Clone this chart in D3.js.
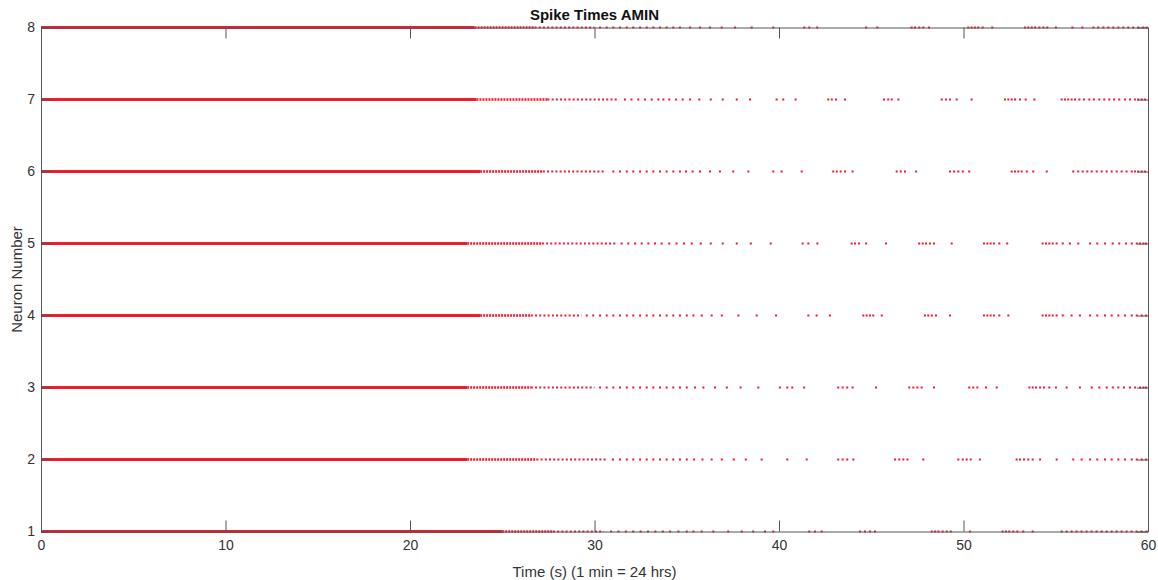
<!DOCTYPE html>
<html><head><meta charset="utf-8">
<script src="https://cdn.jsdelivr.net/npm/d3@7"></script>
<style>body{margin:0;background:#fff;} svg text{font-family:"Liberation Sans",Arial,Helvetica,sans-serif;}</style>
</head><body><svg id="c" width="1158" height="580"></svg>
<script>
// ---------- data ----------
const neurons = [1, 2, 3, 4, 5, 6, 7, 8];
const xTicks = [0, 10, 20, 30, 40, 50, 60];
const yTicks = [1, 2, 3, 4, 5, 6, 7, 8];
const titleText = "Spike Times AMIN";
const xLabel = "Time (s) (1 min = 24 hrs)";
const yLabel = "Neuron Number";
// time (s) up to which each neuron's spikes merge into a continuous line (neuron 1..8)
const solidEnd = [25.0, 23.1, 23.1, 23.8, 23.1, 23.8, 23.6, 23.5];
// time (s) up to which spikes are densely packed (finely dotted)
const denseEnd = [30.5, 30.6, 30.0, 29.3, 31.2, 30.6, 31.3, 30.0];
// individually distinguishable spike times (s)
const spikes1 = [30.9, 31.3, 31.7, 32.1, 32.5, 32.9, 33.3, 33.7, 34.1, 34.55, 35.0, 35.36, 35.81, 36.44, 37.25, 37.98, 38.6, 39.24, 39.69,
  41.64, 41.95, 42.31, 44.39, 44.66, 44.93, 45.2, 48.28, 48.46, 48.64, 48.87, 49.09, 49.31, 50.35,
  52.12, 52.3, 52.48, 52.7, 52.92, 53.24, 53.75, 55.32, 55.59, 55.86, 56.13, 56.4, 56.67, 56.94, 57.21, 57.49, 57.76, 58.03, 58.3, 58.57, 58.84, 59.11, 59.38, 59.65, 59.92];
const spikes2 = [31.0, 31.38, 31.75, 32.1, 32.47, 32.83, 33.19, 33.55, 33.91, 34.27, 34.63, 35.0, 35.4, 35.85, 36.35, 36.9, 37.55, 38.2, 39.06,
  40.45, 41.5, 43.21, 43.45, 43.7, 44.03, 46.29, 46.52, 46.74, 46.96, 47.82, 49.72, 49.96, 50.17, 50.39, 50.89,
  52.88, 53.06, 53.28, 53.51, 53.75, 54.15, 55.05, 55.95, 56.4, 56.86, 57.25, 57.67, 58.03, 58.39, 58.75, 59.12, 59.39, 59.66, 59.89];
const spikes3 = [30.3, 30.66, 31.02, 31.38, 31.75, 32.1, 32.47, 32.83, 33.19, 33.55, 33.91, 34.27, 34.63, 35.0, 35.45, 35.9, 36.53, 37.17, 37.92, 38.88, 40.05,
  40.45, 40.72, 41.36, 43.21, 43.45, 43.7, 43.99, 45.26, 47.06, 47.28, 47.5, 47.73, 48.4, 50.31, 50.53, 50.75, 51.22, 51.8,
  53.57, 53.75, 53.93, 54.15, 54.36, 54.65, 55.01, 55.59, 56.31, 56.95, 57.36, 57.76, 58.09, 58.39, 58.7, 59.02, 59.3, 59.57, 59.75, 59.89];
const spikes4 = [29.58, 29.93, 30.3, 30.66, 31.02, 31.38, 31.75, 32.1, 32.47, 32.83, 33.19, 33.55, 33.91, 34.27, 34.63, 35.0, 35.36, 35.81, 36.35, 36.9, 37.8, 38.79, 39.84,
  41.59, 42.04, 42.76, 44.57, 44.75, 44.93, 45.11, 45.57, 47.91, 48.09, 48.28, 48.51, 49.27,
  51.11, 51.29, 51.47, 51.65, 51.94, 52.43, 54.29, 54.47, 54.65, 54.83, 55.05, 55.38, 55.86, 56.31, 56.86, 57.25, 57.67, 58.03, 58.39, 58.75, 59.12, 59.39, 59.66, 59.89];
const spikes5 = [31.47, 31.83, 32.2, 32.56, 32.92, 33.28, 33.64, 34.05, 34.45, 34.85, 35.27, 35.76, 36.3, 36.95, 37.71, 38.47, 39.55,
  41.28, 41.59, 42.08, 43.94, 44.12, 44.34, 44.72, 45.8, 47.6, 47.79, 47.97, 48.18, 48.4, 49.36,
  51.11, 51.29, 51.47, 51.65, 51.94, 52.37, 54.29, 54.47, 54.65, 54.83, 55.05, 55.38, 55.77, 56.22, 56.86, 57.25, 57.67, 58.09, 58.44, 58.81, 59.12, 59.39, 59.57, 59.75, 59.89];
const spikes6 = [31.02, 31.38, 31.75, 32.1, 32.47, 32.83, 33.19, 33.55, 33.91, 34.27, 34.63, 34.96, 35.32, 35.72, 36.26, 36.8, 37.52, 38.34, 39.69,
  40.14, 41.23, 42.94, 43.13, 43.34, 43.58, 43.99, 46.38, 46.6, 46.83, 47.43, 49.27, 49.49, 49.72, 49.96, 50.31,
  52.61, 52.79, 52.97, 53.15, 53.43, 53.78, 54.51, 55.95, 56.22, 56.46, 56.71, 56.95, 57.22, 57.49, 57.76, 58.03, 58.3, 58.57, 58.84, 59.12, 59.3, 59.47, 59.66, 59.84];
const spikes7 = [31.65, 32.0, 32.37, 32.74, 33.1, 33.46, 33.73, 34.05, 34.42, 34.78, 35.18, 35.68, 36.3, 36.95, 37.71, 38.43, 39.87,
  40.23, 40.9, 42.67, 42.86, 43.09, 43.58, 45.69, 45.92, 46.11, 46.47, 48.82, 49.05, 49.27, 49.63, 50.44,
  52.25, 52.43, 52.61, 52.79, 53.06, 53.37, 53.84, 55.32, 55.5, 55.68, 55.86, 56.04, 56.28, 56.53, 56.82, 57.07, 57.36, 57.63, 57.9, 58.16, 58.44, 58.75, 59.02, 59.29, 59.47, 59.66, 59.84];
const spikes8 = [30.3, 30.66, 31.02, 31.38, 31.75, 32.1, 32.47, 32.83, 33.19, 33.55, 33.91, 34.27, 34.63, 35.18, 35.72, 36.26, 36.89, 37.62, 38.52, 39.69,
  41.37, 41.64, 42.07, 44.72, 45.33, 47.19, 47.37, 47.6, 47.82, 48.13, 50.26, 50.44, 50.62, 50.8, 51.04, 51.56,
  53.33, 53.51, 53.7, 53.88, 54.11, 54.33, 54.54, 55.01, 55.9, 56.44, 57.04, 57.3, 57.58, 57.85, 58.12, 58.39, 58.66, 58.93, 59.2, 59.47, 59.74, 59.93];
const spikeLists = [spikes1, spikes2, spikes3, spikes4, spikes5, spikes6, spikes7, spikes8];

// ---------- drawing ----------
const svg = d3.select("#c");
const L = 41, R = 1148, T = 27.5, B = 531.5;
const x = d3.scaleLinear().domain([0, 60]).range([L, R]);
const y = d3.scaleLinear().domain([1, 8]).range([B, T]);
const axisColor = "#555";
const textColor = "#333";
const red = "#ee1c2e";

svg.append("rect").attr("x", 0).attr("y", 0).attr("width", 1158).attr("height", 580).attr("fill", "#fff");

const plot = svg.append("g");
neurons.forEach((n, i) => {
  // continuous part
  plot.append("line")
    .attr("x1", x(0)).attr("x2", x(solidEnd[i]))
    .attr("y1", y(n)).attr("y2", y(n))
    .attr("stroke", red).attr("stroke-width", 3);
  // densely dotted part
  const mid = (solidEnd[i] + denseEnd[i]) / 2;
  plot.append("line")
    .attr("x1", x(solidEnd[i])).attr("x2", x(mid))
    .attr("y1", y(n)).attr("y2", y(n))
    .attr("stroke", red).attr("stroke-width", 2.4).attr("stroke-dasharray", "2,1");
  plot.append("line")
    .attr("x1", x(mid)).attr("x2", x(denseEnd[i]))
    .attr("y1", y(n)).attr("y2", y(n))
    .attr("stroke", red).attr("stroke-width", 2).attr("stroke-dasharray", "2,2.2");
  // individual spikes
  plot.selectAll(null).data(spikeLists[i]).enter().append("rect")
    .attr("x", d => x(d) - 1).attr("y", y(n) - 1)
    .attr("width", 2).attr("height", 2)
    .attr("fill", red);
});

// axes (MATLAB style box with inward ticks)
function styleAxis(g) {
  g.selectAll(".domain").attr("stroke", axisColor);
  g.selectAll(".tick line").attr("stroke", axisColor);
  g.selectAll(".tick text").attr("fill", textColor).attr("font-size", 14);
}
svg.append("g").attr("transform", `translate(0,${B})`)
  .call(d3.axisBottom(x).tickValues(xTicks).tickFormat(d3.format("d")).tickSizeInner(-11).tickSizeOuter(0).tickPadding(9))
  .call(styleAxis);
svg.append("g").attr("transform", `translate(0,${T})`)
  .call(d3.axisTop(x).tickValues(xTicks).tickSizeInner(-11).tickSizeOuter(0).tickFormat(""))
  .call(styleAxis);
svg.append("g").attr("transform", `translate(${L},0)`)
  .call(d3.axisLeft(y).tickValues(yTicks).tickFormat(d3.format("d")).tickSizeInner(-11).tickSizeOuter(0).tickPadding(6))
  .call(styleAxis);
svg.append("g").attr("transform", `translate(${R},0)`)
  .call(d3.axisRight(y).tickValues(yTicks).tickSizeInner(-11).tickSizeOuter(0).tickFormat(""))
  .call(styleAxis);

// labels
svg.append("text").attr("x", (L + R) / 2).attr("y", 20).attr("text-anchor", "middle")
  .attr("font-size", 15).attr("font-weight", "bold").attr("fill", "#111").text(titleText);
svg.append("text").attr("x", (L + R) / 2).attr("y", 577).attr("text-anchor", "middle")
  .attr("font-size", 15).attr("fill", textColor).text(xLabel);
svg.append("text").attr("transform", `translate(22,${(T + B) / 2}) rotate(-90)`).attr("text-anchor", "middle")
  .attr("font-size", 15).attr("fill", textColor).text(yLabel);
</script>
</body></html>
